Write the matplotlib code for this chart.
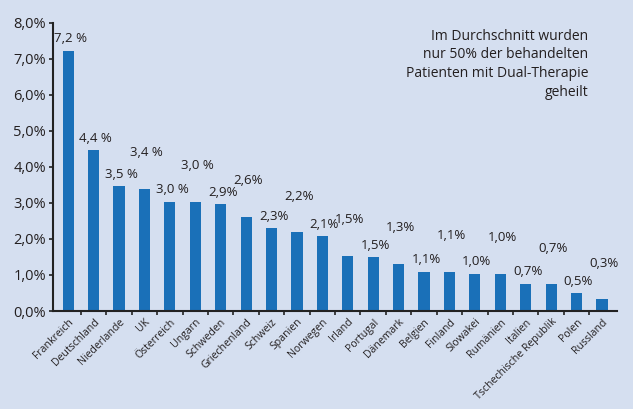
import numpy as np
import matplotlib.pyplot as plt

plt.rcParams['font.family'] = ['Open Sans', 'DejaVu Sans']

countries = ["Frankreich", "Deutschland", "Niederlande", "UK", "Österreich", "Ungarn",
             "Schweden", "Griechenland", "Schweiz", "Spanien", "Norwegen", "Irland",
             "Portugal", "Dänemark", "Belgien", "Finland", "Slowakei", "Rumänien",
             "Italien", "Tschechische Republik", "Polen", "Russland"]
values = [7.22, 4.46, 3.47, 3.39, 3.03, 3.03, 2.97, 2.62, 2.29, 2.18, 2.07, 1.53,
          1.49, 1.31, 1.09, 1.09, 1.04, 1.04, 0.76, 0.74, 0.49, 0.32]
value_labels = ["7,2 %", "4,4 %", "3,5 %", "3,4 %", "3,0 %", "3,0 %", "2,9%", "2,6%",
                "2,3%", "2,2%", "2,1%", "1,5%", "1,5%", "1,3%", "1,1%", "1,1%",
                "1,0%", "1,0%", "0,7%", "0,7%", "0,5%", "0,3%"]
note = "Im Durchschnitt wurden\nnur 50% der behandelten\nPatienten mit Dual-Therapie\ngeheilt"

bg = "#d5dff0"
bar_color = "#1a70b8"
text_color = "#231f20"

fig = plt.figure(figsize=(6.33, 4.09), dpi=100, facecolor=bg)
ax = fig.add_axes([0.0837, 0.2396, 0.8913, 0.705])
ax.set_facecolor(bg)

x = np.arange(len(countries))
ax.bar(x, values, width=0.44, color=bar_color)

# labels alternate between low and high to avoid overlapping
for i, (v, lab) in enumerate(zip(values, value_labels)):
    high = i % 2 == 1 and i > 1
    off = 1.0 if high else 0.33
    ax.text(i + 0.08, v + off, lab, ha="center", va="center", fontsize=9.5, color=text_color)

ax.set_xlim(-0.6, 21.6)
ax.set_ylim(0, 8)
ax.set_yticks(np.arange(0, 9))
ax.set_yticklabels([f"{v},0%" for v in range(9)], fontsize=10.5, color=text_color)

ax.set_xticks(x, minor=False)
ax.set_xticklabels(countries, rotation=45, ha="right", rotation_mode="anchor",
                   fontsize=7.6, color=text_color)
ax.tick_params(axis="x", length=0, pad=4)
ax.set_xticks(np.arange(0.5, 21, 1), minor=True)
ax.tick_params(axis="x", which="minor", length=3, width=1.2, color="#222222")
ax.tick_params(axis="y", length=3, width=1.2, color="#222222", pad=2)

for s in ["top", "right"]:
    ax.spines[s].set_visible(False)
for s in ["left", "bottom"]:
    ax.spines[s].set_linewidth(1.5)
    ax.spines[s].set_color("#222222")

fig.text(0.929, 0.93, note, ha="right", va="top", fontsize=10, color=text_color,
         linespacing=1.35)

plt.savefig("out.png", dpi=100, facecolor=bg)
